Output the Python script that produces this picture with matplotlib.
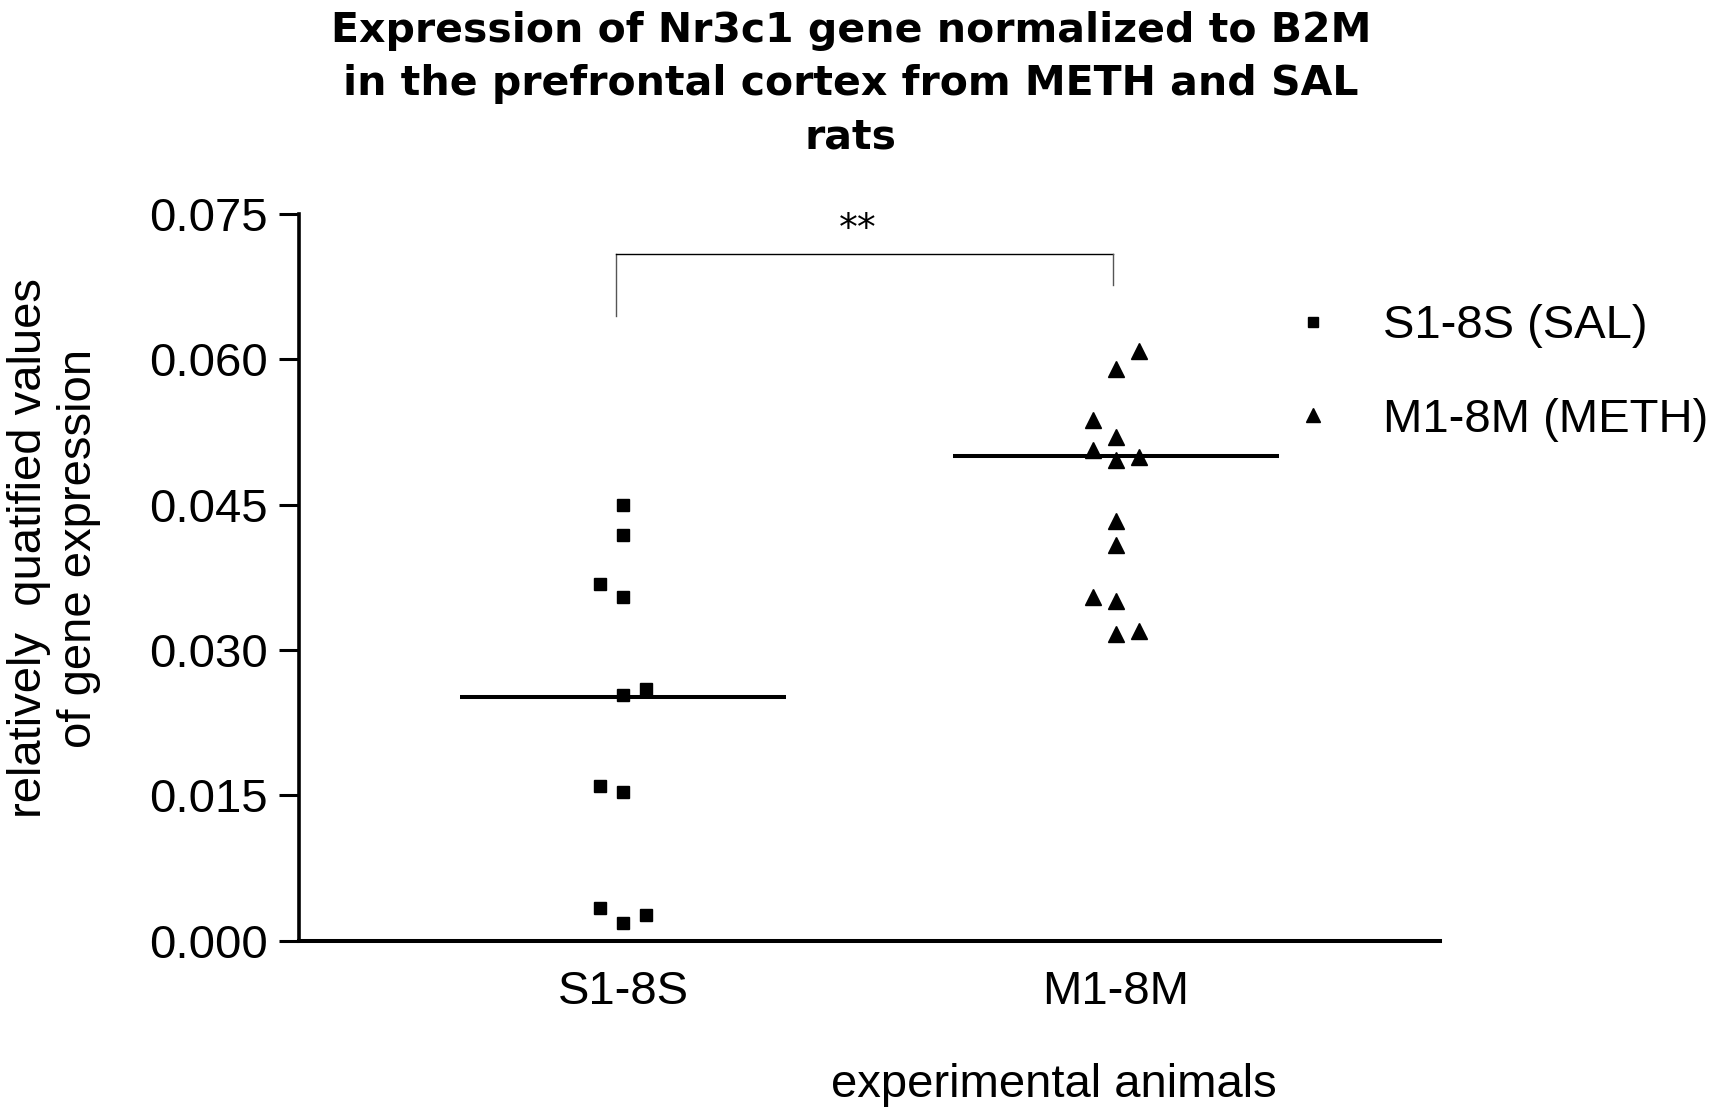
import matplotlib
matplotlib.use('Agg')
import matplotlib.pyplot as plt
import numpy as np

# values
groups = ['S1-8S', 'M1-8M']
legend_labels = ['S1-8S (SAL)', 'M1-8M (METH)']

sal_values = [0.0449, 0.0419, 0.0368, 0.0355, 0.0260, 0.0253, 0.0160, 0.0153, 0.0034, 0.0018, 0.0026]
sal_column = [0, 0, -1, 0, 1, 0, -1, 0, -1, 0, 1]

meth_values = [0.0608, 0.0590, 0.0537, 0.0520, 0.0506, 0.0496, 0.0499, 0.0433, 0.0408, 0.0355, 0.0350, 0.0316, 0.0320]
meth_column = [1, 0, -1, 0, -1, 0, 1, 0, 0, -1, 0, 0, 1]

medians = [0.0251, 0.0500]

# significance bracket
bracket_top = 0.0708
bracket_left_end = 0.0644
bracket_right_end = 0.0676
star_text = '**'
star_y = 0.0733

yticks = [0.000, 0.015, 0.030, 0.045, 0.060, 0.075]

title = 'Expression of Nr3c1 gene normalized to B2M\nin the prefrontal cortex from METH and SAL\nrats'
ylabel = 'relatively  quatified values\nof gene expression'
xlabel = 'experimental animals'

plt.rcParams['font.family'] = ['Liberation Sans', 'DejaVu Sans']

fig = plt.figure(figsize=(17.21, 11.10), dpi=100)
ax = fig.add_axes([299 / 1721, 1 - 940.7 / 1110, (1440 - 299) / 1721, (940.7 - 213.7) / 1110])

step = 0.0467  # spacing between jitter columns
fs = 34

ax.plot(0 + np.array(sal_column) * step, sal_values, linestyle='none', marker='s',
        markersize=8.4, color='black', label=legend_labels[0], clip_on=False)
ax.plot(1 + np.array(meth_column) * step, meth_values, linestyle='none', marker='^',
        markersize=11.5, color='black', label=legend_labels[1], clip_on=False)

for i, m in enumerate(medians):
    ax.plot([i - 0.33, i + 0.33], [m, m], color='black', linewidth=2.9, solid_capstyle='butt')

# bracket
ax.plot([-0.014, -0.014], [bracket_left_end, bracket_top], color='#555555', linewidth=1.0, clip_on=False)
ax.plot([-0.014, 0.993], [bracket_top, bracket_top], color='black', linewidth=1.0, clip_on=False)
ax.plot([0.993, 0.993], [bracket_right_end, bracket_top], color='#555555', linewidth=1.0, clip_on=False)
ax.text(0.476, star_y, star_text, ha='center', va='center', fontsize=27, family='DejaVu Sans')

ax.set_xlim(-0.657, 1.657)
ax.set_ylim(0, 0.075)
ax.set_yticks(yticks)
ax.set_yticklabels(['%.3f' % t for t in yticks])
ax.set_xticks([0, 1])
ax.set_xticklabels(groups)

ax.spines['top'].set_visible(False)
ax.spines['right'].set_visible(False)
ax.spines['left'].set_linewidth(2.6)
ax.spines['bottom'].set_linewidth(2.9)
ax.tick_params(axis='y', length=14.4, width=2.2, pad=8, labelsize=fs)
ax.tick_params(axis='x', length=0, pad=21, labelsize=fs)

ax.set_xlabel(xlabel, fontsize=fs)
ax.xaxis.set_label_coords((1054 - 299) / (1440 - 299), -0.168)

fig.text(54 / 1721, 1 - 548 / 1110, ylabel, rotation=90, ha='center', va='center',
         fontsize=fs, multialignment='center', linespacing=1.2)

fig.text(851 / 1721, 1 - 84 / 1110, title, ha='center', va='center', fontsize=29.5,
         fontweight='bold', family='DejaVu Sans', linespacing=1.42)

ax.legend(loc='center left', bbox_to_anchor=(1289 / 1721, 1 - 373 / 1110),
          bbox_transform=fig.transFigure, frameon=False, fontsize=fs,
          handlelength=1.0, handletextpad=1.0, borderpad=0, borderaxespad=0,
          labelspacing=1.05, markerscale=0.85)

fig.savefig('out.png', dpi=100)
